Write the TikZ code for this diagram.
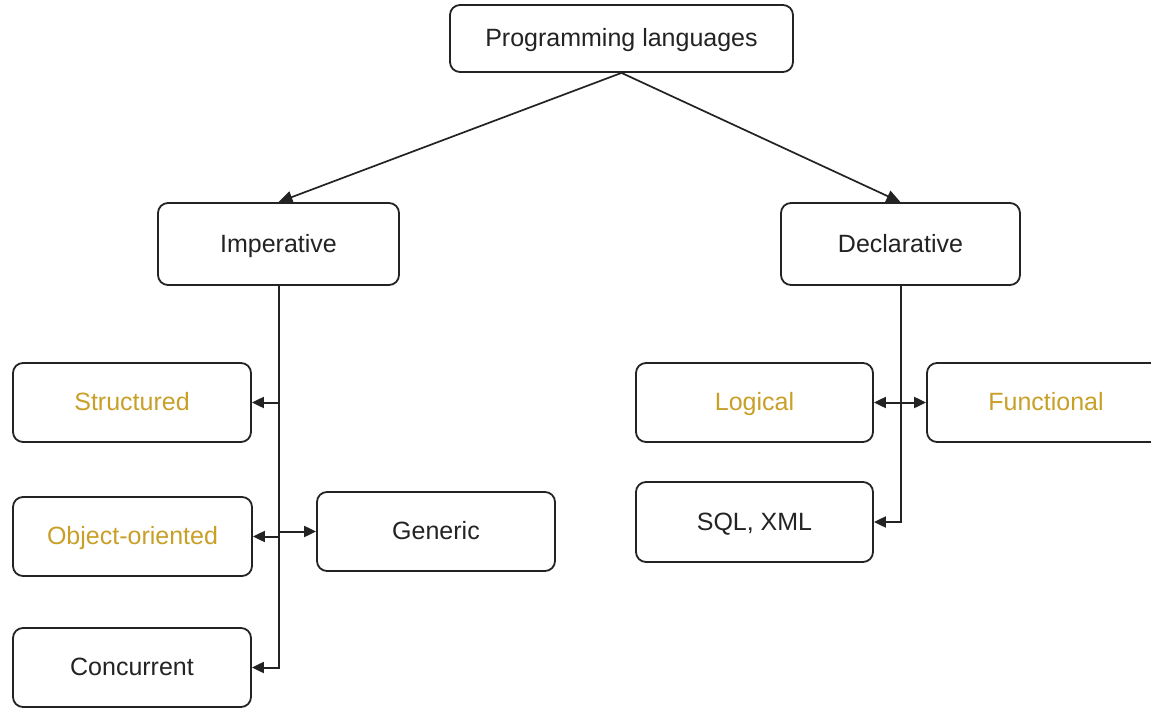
\documentclass[tikz,border=0pt]{standalone}
\usepackage{fontspec}
\setmainfont{Liberation Sans}
\usetikzlibrary{arrows.meta}
\definecolor{gold}{RGB}{200,160,40}
\definecolor{ink}{RGB}{35,35,35}
\begin{document}
\begin{tikzpicture}[x=1pt,y=-1pt,
  box/.style={draw=ink,line width=1.8pt,rounded corners=10pt,fill=white,
    inner sep=0pt,text height=20pt,text depth=4pt,font=\fontsize{25}{30}\selectfont,text=ink},
  goldtext/.style={text=gold},
  conn/.style={draw=ink,line width=2pt,-{Triangle[length=12pt,width=11pt]}},
  dconn/.style={draw=ink,line width=2pt,{Triangle[length=12pt,width=11pt]}-{Triangle[length=12pt,width=11pt]}}]
\clip (0,0) rectangle (1151,709);
\fill[white] (0,0) rectangle (1151,709);
\node[box,minimum width=343pt,minimum height=67pt] (pl) at (621.5,38.5) {Programming languages};
\node[box,minimum width=241pt,minimum height=82pt] (imp) at (278.5,244) {Imperative};
\node[box,minimum width=239pt,minimum height=82pt] (dec) at (900.5,244) {Declarative};
\node[box,goldtext,minimum width=238pt,minimum height=79pt] (str) at (132,402.5) {Structured};
\node[box,goldtext,minimum width=239pt,minimum height=79pt] (oo) at (132.5,536.5) {Object-oriented};
\node[box,minimum width=238pt,minimum height=79pt] (gen) at (436,531.5) {Generic};
\node[box,minimum width=238pt,minimum height=79pt] (con) at (132,667.5) {Concurrent};
\node[box,goldtext,minimum width=237pt,minimum height=79pt] (log) at (754.5,402.5) {Logical};
\node[box,goldtext,minimum width=238pt,minimum height=79pt] (fun) at (1046,402.5) {Functional};
\node[box,minimum width=237pt,minimum height=80pt] (sql) at (754.5,522) {SQL, XML};
\draw[conn,line width=1.7pt,-{Triangle[length=14pt,width=12pt]}] (pl.south) -- (imp.north);
\draw[conn,line width=1.7pt,-{Triangle[length=14pt,width=12pt]}] (pl.south) -- (dec.north);
\draw[conn] (imp.south) |- (str.east);
\draw[conn] (imp.south) |- (oo.east);
\draw[conn] (imp.south) |- (gen.west);
\draw[conn] (imp.south) |- (con.east);
\draw[conn] (dec.south) |- (sql.east);
\draw[dconn] (log.east) -- (fun.west);
\end{tikzpicture}
\end{document}
